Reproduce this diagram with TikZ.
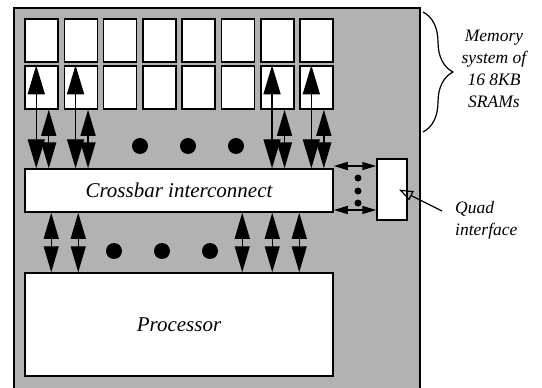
\documentclass[tikz,border=0pt]{standalone}
\usepackage{fontspec}
\setmainfont{Liberation Serif}
\usepackage{tikz}
\usetikzlibrary{shapes, arrows.meta, decorations.pathreplacing, positioning, calc}
\tikzstyle{chip} = [rectangle, minimum width=406pt, minimum height=384pt, draw=black, line width=1.5pt, fill=gray!60]
\tikzstyle{sram} = [rectangle, minimum width=33pt, minimum height=43pt, inner sep=0pt, draw=black, line width=1.5pt, fill=white]
\tikzstyle{unit} = [rectangle, minimum width=308pt, inner sep=0pt, draw=black, line width=1.5pt, fill=white, font=\fontsize{21}{25}\selectfont\itshape]
\tikzstyle{bigdot} = [circle, fill=black, inner sep=0pt, minimum size=16pt]
\tikzstyle{smalldot} = [circle, fill=black, inner sep=0pt, minimum size=7pt]
\tikzstyle{sidetext} = [inner sep=0pt, font=\fontsize{17.5}{22}\selectfont\itshape]
\tikzstyle{longbus} = [{Triangle[length=29pt,width=17pt]}-{Triangle[length=29pt,width=17pt]}, line width=1.3pt]
\tikzstyle{shortbus} = [{Triangle[length=26pt,width=15pt]}-{Triangle[length=26pt,width=15pt]}, line width=1.3pt]
\tikzstyle{quadbus} = [{Triangle[length=14pt,width=8pt]}-{Triangle[length=14pt,width=8pt]}, line width=1.3pt]

\begin{document}
\begin{tikzpicture}[x=1pt, y=-1pt]
\useasboundingbox (0,0) rectangle (542,388);
\node (chip) [chip] at (217,200) {};
% two rows of SRAMs
\foreach \c in {1,...,8} {
  \node (sramA\c) [sram] at ({41.5+(\c-1)*39.3},40.5) {};
  \node (sramB\c) [sram] at ({41.5+(\c-1)*39.3},87.5) {};
}
\node (xbar) [unit, minimum height=43pt] at (179,190.5) {Crossbar interconnect};
\node (proc) [unit, minimum height=103pt] at (179,324.5) {Processor};
\node (quad) [sram, minimum width=30pt, minimum height=61pt] at (392,189.5) {};
% buses to the SRAMs
\foreach \c in {1,2,7,8} {
  \draw[longbus] ([xshift=12pt]sramB\c.north west) -- ([xshift=12pt]sramB\c.north west |- xbar.north);
  \draw[shortbus] ([xshift=24.5pt]sramB\c.south west) -- ([xshift=24.5pt]sramB\c.south west |- xbar.north);
}
% buses to the processor
\foreach \dx in {27,54,218,248,275}
  \draw[shortbus] ([xshift=\dx pt]xbar.south west) -- ([xshift=\dx pt]proc.north west);
\node (dotA1) [bigdot] at (140,146) {};
\node (dotA2) [bigdot] at (188,146) {};
\node (dotA3) [bigdot] at (236,146) {};
\node (dotB1) [bigdot] at (114,251) {};
\node (dotB2) [bigdot] at (162,251) {};
\node (dotB3) [bigdot] at (210,251) {};
% quad interface
\draw[quadbus] ([yshift=24.5pt]xbar.east) -- ([yshift=24.5pt]xbar.east -| quad.west);
\draw[quadbus] ([yshift=-19.5pt]xbar.east) -- ([yshift=-19.5pt]xbar.east -| quad.west);
\node (dotQ1) [smalldot] at (358,178) {};
\node (dotQ2) [smalldot] at (358,191) {};
\node (dotQ3) [smalldot] at (358,203) {};
\node (quadlabel) [sidetext, anchor=west, align=left] at (455,220) {Quad\\interface};
\draw[-{Triangle[open,length=14pt,width=10pt]}, line width=1.2pt] ([shift={(-13pt,9pt)}]quadlabel.west) -- ([xshift=7pt]quad.center);
% memory brace
\coordinate (bracetop) at (423,12);
\coordinate (bracebot) at (423,132);
\draw[line width=1.2pt, decorate, decoration={brace, amplitude=30pt}] (bracetop) -- (bracebot);
\node (memlabel) [sidetext, align=center] at (494,69) {Memory\\system of\\16 8KB\\SRAMs};
\end{tikzpicture}
\end{document}
